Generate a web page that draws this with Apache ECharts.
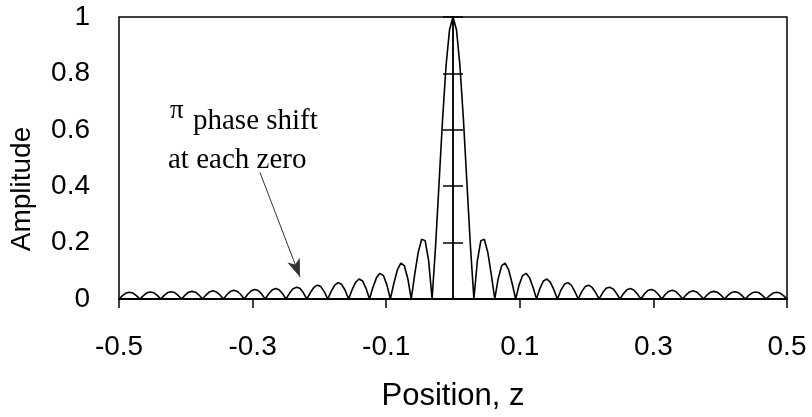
<!DOCTYPE html>
<html>
<head>
<meta charset="utf-8">
<script src="https://cdn.jsdelivr.net/npm/echarts@6/dist/echarts.min.js"></script>
<style>html,body{margin:0;padding:0;background:#fff}#c{width:812px;height:417px}</style>
</head>
<body>
<div id="c"></div>
<script>
// Position z (left half then right half)
const zLeft = [-0.5000,-0.4948,-0.4896,-0.4844,-0.4792,-0.4740,-0.4688,-0.4635,-0.4583,-0.4531,-0.4479,-0.4427,-0.4375,-0.4323,-0.4271,-0.4219,-0.4167,-0.4115,-0.4063,-0.4010,-0.3958,-0.3906,-0.3854,-0.3802,-0.3750,-0.3698,-0.3646,-0.3594,-0.3542,-0.3490,-0.3438,-0.3385,-0.3333,-0.3281,-0.3229,-0.3177,-0.3125,-0.3073,-0.3021,-0.2969,-0.2917,-0.2865,-0.2813,-0.2760,-0.2708,-0.2656,-0.2604,-0.2552,-0.2500,-0.2448,-0.2396,-0.2344,-0.2292,-0.2240,-0.2188,-0.2135,-0.2083,-0.2031,-0.1979,-0.1927,-0.1875,-0.1823,-0.1771,-0.1719,-0.1667,-0.1615,-0.1563,-0.1510,-0.1458,-0.1406,-0.1354,-0.1302,-0.1250,-0.1198,-0.1146,-0.1094,-0.1042,-0.0990,-0.0938,-0.0885,-0.0833,-0.0781,-0.0729,-0.0677,-0.0625,-0.0573,-0.0521,-0.0469,-0.0417,-0.0365,-0.0313,-0.0260,-0.0208,-0.0156,-0.0104,-0.0052];
const ampLeft = [0,0.012,0.021,0.024,0.021,0.012,0,0.012,0.022,0.025,0.022,0.013,0,0.013,0.023,0.026,0.023,0.013,0,0.014,0.024,0.027,0.024,0.014,0,0.014,0.025,0.029,0.025,0.015,0,0.015,0.027,0.031,0.027,0.016,0,0.017,0.029,0.034,0.030,0.018,0,0.018,0.032,0.037,0.033,0.019,0,0.020,0.036,0.042,0.038,0.022,0,0.023,0.041,0.049,0.044,0.026,0,0.027,0.049,0.058,0.052,0.031,0,0.033,0.059,0.071,0.064,0.038,0,0.042,0.075,0.091,0.083,0.050,0,0.056,0.103,0.127,0.118,0.073,0,0.087,0.165,0.212,0.207,0.136,0,0.191,0.414,0.637,0.827,0.955];
const zRight = [0,0.0052,0.0104,0.0156,0.0208,0.0260,0.0313,0.0365,0.0417,0.0469,0.0521,0.0573,0.0625,0.0677,0.0729,0.0781,0.0833,0.0885,0.0938,0.0990,0.1042,0.1094,0.1146,0.1198,0.1250,0.1302,0.1354,0.1406,0.1458,0.1510,0.1563,0.1615,0.1667,0.1719,0.1771,0.1823,0.1875,0.1927,0.1979,0.2031,0.2083,0.2135,0.2188,0.2240,0.2292,0.2344,0.2396,0.2448,0.2500,0.2552,0.2604,0.2656,0.2708,0.2760,0.2813,0.2865,0.2917,0.2969,0.3021,0.3073,0.3125,0.3177,0.3229,0.3281,0.3333,0.3385,0.3438,0.3490,0.3542,0.3594,0.3646,0.3698,0.3750,0.3802,0.3854,0.3906,0.3958,0.4010,0.4063,0.4115,0.4167,0.4219,0.4271,0.4323,0.4375,0.4427,0.4479,0.4531,0.4583,0.4635,0.4688,0.4740,0.4792,0.4844,0.4896,0.4948,0.5000];
const ampRight = [1,0.955,0.827,0.637,0.414,0.191,0,0.136,0.207,0.212,0.165,0.087,0,0.073,0.118,0.127,0.103,0.056,0,0.050,0.083,0.091,0.075,0.042,0,0.038,0.064,0.071,0.059,0.033,0,0.031,0.052,0.058,0.049,0.027,0,0.026,0.044,0.049,0.041,0.023,0,0.022,0.038,0.042,0.036,0.020,0,0.019,0.033,0.037,0.032,0.018,0,0.018,0.030,0.034,0.029,0.017,0,0.016,0.027,0.031,0.027,0.015,0,0.015,0.025,0.029,0.025,0.014,0,0.014,0.024,0.027,0.024,0.014,0,0.013,0.023,0.026,0.023,0.013,0,0.013,0.022,0.025,0.022,0.012,0,0.012,0.021,0.024,0.021,0.012,0];

const xTickLabels = [-0.5, -0.3, -0.1, 0.1, 0.3, 0.5];
const yTickLabels = [0, 0.2, 0.4, 0.6, 0.8, 1];
const arrowFrom = [-0.289, 0.449];
const arrowTo = [-0.229, 0.078];

const zAll = zLeft.concat(zRight);
const ampAll = ampLeft.concat(ampRight);
const lineData = zAll.map((z, i) => [z, ampAll[i]]);

const sans = 'Liberation Sans, Arial, sans-serif';
const serif = 'Liberation Serif, Times New Roman, serif';

// y axis drawn through z = 0 with ticks crossing it (one half each side)
const centreAxis = (pos, xIdx) => ({
  type: 'value', min: 0, max: 1, interval: 0.2, position: pos,
  axisLine: {show: true, onZero: true, onZeroAxisIndex: xIdx, lineStyle: {color: '#000', width: 1.5}},
  axisTick: {show: true, inside: false, length: 10, lineStyle: {color: '#000', width: 1.5}},
  axisLabel: {show: false}, splitLine: {show: false}
});

const chart = echarts.init(document.getElementById('c'), null, {renderer: 'canvas'});
chart.setOption({
  animation: false,
  backgroundColor: '#fff',
  grid: {left: 119, right: 25, top: 17, bottom: 117, show: true, borderColor: '#000', borderWidth: 1.5, backgroundColor: 'transparent'},
  xAxis: [{
    type: 'value', min: -0.5, max: 0.5, position: 'bottom',
    name: 'Position, z', nameLocation: 'middle', nameGap: 82,
    nameTextStyle: {fontFamily: sans, fontSize: 31, color: '#000'},
    axisLine: {show: true, onZero: false, lineStyle: {color: '#000', width: 2}},
    axisTick: {show: true, inside: false, length: 9, customValues: xTickLabels, lineStyle: {color: '#000', width: 1.5}},
    axisLabel: {customValues: xTickLabels, margin: 34, fontFamily: sans, fontSize: 28, color: '#000'},
    splitLine: {show: false}
  }, {
    type: 'value', min: -0.5, max: 0.5, position: 'top',
    axisLine: {show: false, onZero: false}, axisTick: {show: false},
    axisLabel: {show: false}, splitLine: {show: false}
  }],
  yAxis: [
    {
      type: 'value', min: 0, max: 1, interval: 0.2, position: 'left',
      name: 'Amplitude', nameLocation: 'middle', nameGap: 83,
      nameTextStyle: {fontFamily: sans, fontSize: 28, color: '#000', padding: [0, 62, 0, 0]},
      axisLine: {show: false, onZero: false},
      axisTick: {show: false},
      axisLabel: {margin: 29, fontFamily: sans, fontSize: 28, color: '#000',
        formatter: v => yTickLabels.includes(Math.round(v * 10) / 10) ? String(Math.round(v * 10) / 10) : ''},
      splitLine: {show: false}
    },
    centreAxis('left', 0),
    centreAxis('right', 1)
  ],
  series: [{
    type: 'line', data: lineData, showSymbol: false, symbol: 'none',
    xAxisIndex: 0, yAxisIndex: 0,
    lineStyle: {color: '#000', width: 1.6}, z: 3,
    markLine: {
      silent: true, symbol: ['none', 'arrow'], symbolSize: [10, 18],
      label: {show: false},
      lineStyle: {color: '#333', width: 1, type: 'solid'},
      data: [[{coord: arrowFrom}, {coord: arrowTo}]]
    }
  }],
  graphic: [
    {type: 'text', left: 170, top: 97, style: {text: 'π', font: '27px ' + serif, fill: '#000'}},
    {type: 'text', left: 193, top: 107, style: {text: 'phase shift', font: '29px ' + serif, fill: '#000'}},
    {type: 'text', left: 168, top: 146, style: {text: 'at each zero', font: '29px ' + serif, fill: '#000'}}
  ]
});
</script>
</body>
</html>
